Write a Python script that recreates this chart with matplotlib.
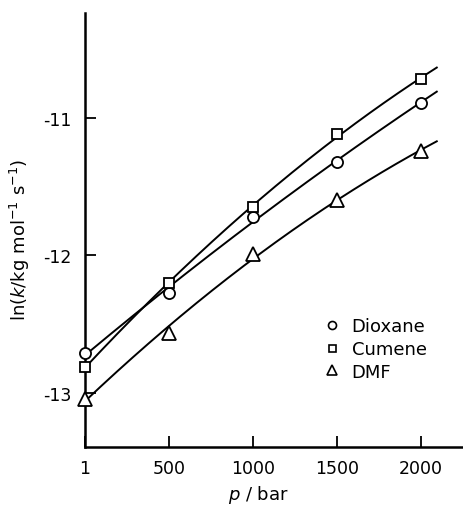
import numpy as np
import matplotlib
matplotlib.use("Agg")
import matplotlib.pyplot as plt
from matplotlib.lines import Line2D

plt.rcParams['font.family'] = ['DejaVu Sans']
plt.rcParams['axes.unicode_minus'] = False

# data
pressure = [1, 500, 1000, 1500, 2000]
dioxane = [-12.71, -12.27, -11.72, -11.32, -10.89]
cumene = [-12.81, -12.20, -11.65, -11.12, -10.72]
dmf = [-13.04, -12.56, -11.99, -11.60, -11.24]
series_names = ["Dioxane", "Cumene", "DMF"]
xticks = [1, 500, 1000, 1500, 2000]
yticks = [-11, -12, -13]

fig = plt.figure(figsize=(4.63, 5.10), dpi=100)
ax = fig.add_axes([0.1836, 0.1216, 0.816, 0.851])

xfit = np.linspace(1, 2095, 200)
markers = ['o', 's', '^']
sizes = [8, 7, 9.5]
for ys, m, ms in zip([dioxane, cumene, dmf], markers, sizes):
    coef = np.polyfit(pressure, ys, 2)
    ax.plot(xfit, np.polyval(coef, xfit), color='black', lw=1.4, zorder=2)
    ax.plot(pressure, ys, linestyle='none', marker=m, ms=ms, mfc='white',
            mec='black', mew=1.3, zorder=3, clip_on=False)

ax.set_xlim(1, 2250)
ax.set_ylim(-13.39, -10.24)
ax.set_xticks(xticks)
ax.set_yticks(yticks)
ax.tick_params(direction='in', length=8, width=1.3, labelsize=12.5, pad=10)
ax.tick_params(axis='x', pad=9)
for s in ['top', 'right']:
    ax.spines[s].set_visible(False)
for s in ['left', 'bottom']:
    ax.spines[s].set_linewidth(1.8)

ax.set_ylabel(r'ln($k$/kg mol$^{-1}$ s$^{-1}$)', fontsize=13)
ax.yaxis.set_label_coords(-0.14, 0.48)
ax.set_xlabel(r'$p$ / bar', fontsize=13)
ax.xaxis.set_label_coords(0.458, -0.083)

handles = [Line2D([], [], linestyle='none', marker=m, ms=ms * 0.72, mfc='white',
                  mec='black', mew=1.2) for m, ms in zip(markers, sizes)]
ax.legend(handles, series_names, loc='upper left', bbox_to_anchor=(0.61, 0.315),
          frameon=False, fontsize=13, handletextpad=0.6, labelspacing=0.25,
          handlelength=1.0, borderaxespad=0)

fig.savefig('out.png', dpi=100)
